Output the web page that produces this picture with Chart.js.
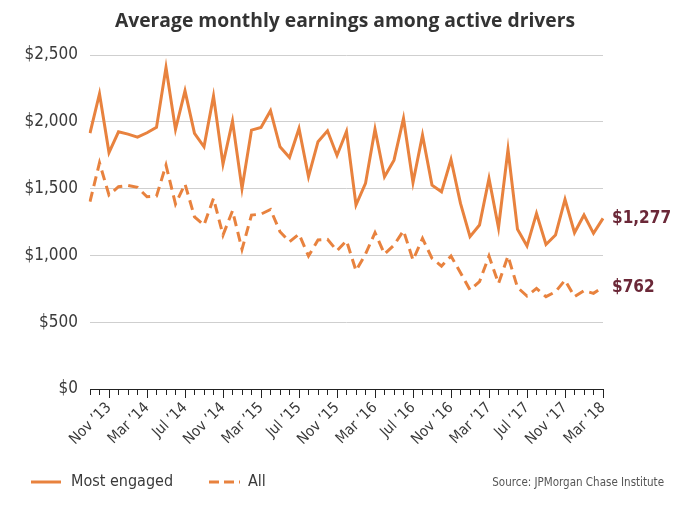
<!DOCTYPE html>
<html>
<head>
<meta charset="utf-8">
<script src="https://cdn.jsdelivr.net/npm/chart.js@4"></script>
<style>
  html, body { margin: 0; padding: 0; background: #fff; }
  #wrap { width: 678px; height: 512px; }
</style>
</head>
<body>
<div id="wrap"><canvas id="chart" width="678" height="512"></canvas></div>
<script>
// Monthly data, Sep 2013 - Mar 2018
const months = [
  "Sep '13", "Oct '13", "Nov ’13", "Dec '13",
  "Jan '14", "Feb '14", "Mar ’14", "Apr '14", "May '14", "Jun '14", "Jul ’14", "Aug '14", "Sep '14", "Oct '14", "Nov ’14", "Dec '14",
  "Jan '15", "Feb '15", "Mar ’15", "Apr '15", "May '15", "Jun '15", "Jul ’15", "Aug '15", "Sep '15", "Oct '15", "Nov ’15", "Dec '15",
  "Jan '16", "Feb '16", "Mar ’16", "Apr '16", "May '16", "Jun '16", "Jul ’16", "Aug '16", "Sep '16", "Oct '16", "Nov ’16", "Dec '16",
  "Jan '17", "Feb '17", "Mar ’17", "Apr '17", "May '17", "Jun '17", "Jul ’17", "Aug '17", "Sep '17", "Oct '17", "Nov ’17", "Dec '17",
  "Jan '18", "Feb '18", "Mar ’18"
];

const mostEngaged = [
  1915, 2210, 1770, 1925, 1908, 1885, 1918, 1958, 2407, 1943,
  2232, 1913, 1813, 2192, 1683, 2005, 1501, 1938, 1958, 2083,
  1813, 1733, 1950, 1589, 1851, 1933, 1748, 1928, 1377, 1539,
  1945, 1589, 1713, 2025, 1546, 1900, 1526, 1476, 1718, 1389,
  1140, 1227, 1576, 1207, 1793, 1195, 1070, 1314, 1082, 1152,
  1419, 1170, 1302, 1165, 1277
];

const allDrivers = [
  1402, 1693, 1452, 1514, 1524, 1509, 1439, 1444, 1676, 1384,
  1534, 1289, 1227, 1427, 1152, 1334, 1045, 1302, 1309, 1344,
  1177, 1102, 1160, 995, 1115, 1120, 1035, 1110, 885, 1010,
  1170, 1010, 1077, 1185, 965, 1127, 978, 920, 995, 870,
  741, 803, 995, 790, 995, 760, 696, 753, 691, 728,
  815, 691, 736, 716, 762
];

const seriesNames = ["Most engaged", "All"];
const endLabels = ["$1,277", "$762"];

const orange = "#E8823E";
const maroon = "#6B2838";
const textColor = "#3a3a3a";
const narrow = "'Liberation Sans Narrow', 'DejaVu Sans Condensed', sans-serif";

// title, end labels, legend, source and longer major ticks
const extrasPlugin = {
  id: "extras",
  afterDraw(chart) {
    const ctx = chart.ctx;
    const xs = chart.scales.x;
    const ys = chart.scales.y;
    ctx.save();

    // title
    ctx.fillStyle = "#333";
    ctx.font = "bold 19.3px 'Open Sans', sans-serif";
    ctx.textAlign = "center";
    ctx.textBaseline = "middle";
    ctx.fillText("Average monthly earnings among active drivers", 345, 22);

    // major ticks (every 4 months) a bit longer
    ctx.strokeStyle = "#222";
    ctx.lineWidth = 1;
    xs.ticks.forEach((t, i) => {
      if (i % 4 === 2) {
        const px = Math.round(xs.getPixelForTick(i)) + 0.5;
        ctx.beginPath();
        ctx.moveTo(px, chart.chartArea.bottom);
        ctx.lineTo(px, chart.chartArea.bottom + 9);
        ctx.stroke();
      }
    });

    // end labels
    ctx.fillStyle = maroon;
    ctx.font = "bold 17px " + narrow;
    ctx.textAlign = "left";
    ctx.textBaseline = "middle";
    chart.data.datasets.forEach((ds, i) => {
      const last = ds.data.length - 1;
      const px = xs.getPixelForValue(last);
      const py = ys.getPixelForValue(ds.data[last]);
      ctx.fillText(endLabels[i], px + 9, py);
    });

    // legend
    const ly = 482;
    ctx.strokeStyle = orange;
    ctx.lineWidth = 3;
    ctx.beginPath();
    ctx.moveTo(31, ly);
    ctx.lineTo(61, ly);
    ctx.stroke();
    ctx.setLineDash([10, 5]);
    ctx.beginPath();
    ctx.moveTo(209, ly);
    ctx.lineTo(240, ly);
    ctx.stroke();
    ctx.setLineDash([]);

    ctx.fillStyle = textColor;
    ctx.font = "16px " + narrow;
    ctx.fillText(seriesNames[0], 71, ly);
    ctx.fillText(seriesNames[1], 248, ly);

    ctx.fillStyle = "#555";
    ctx.font = "11.5px " + narrow;
    ctx.textAlign = "right";
    ctx.fillText("Source: JPMorgan Chase Institute", 664, ly + 1);

    ctx.restore();
  }
};

new Chart(document.getElementById("chart"), {
  type: "line",
  data: {
    labels: months,
    datasets: [
      {
        label: seriesNames[0],
        data: mostEngaged,
        borderColor: orange,
        borderWidth: 3,
        pointRadius: 0,
        tension: 0,
        fill: false,
      },
      {
        label: seriesNames[1],
        data: allDrivers,
        borderColor: orange,
        borderWidth: 3,
        borderDash: [10, 6],
        pointRadius: 0,
        tension: 0,
        fill: false,
      },
    ],
  },
  options: {
    responsive: false,
    animation: false,
    layout: {
      padding: { top: 55, right: 75, left: 0, bottom: 0 },
    },
    plugins: {
      legend: { display: false },
      title: { display: false },
      tooltip: { enabled: false },
    },
    scales: {
      x: {
        offset: false,
        afterFit: (scale) => {
          scale.height = 123;
        },
        border: { display: true, color: "#222", width: 1 },
        grid: {
          drawOnChartArea: false,
          drawTicks: true,
          tickLength: 6,
          color: "#222",
        },
        ticks: {
          autoSkip: false,
          maxRotation: 45,
          minRotation: 45,
          padding: 4,
          color: textColor,
          font: { family: narrow, size: 15 },
          callback: function (value, index) {
            return index % 4 === 2 ? months[index] : "";
          },
        },
      },
      y: {
        min: 0,
        max: 2500,
        afterFit: (scale) => {
          scale.width = 90;
        },
        border: { display: false },
        grid: {
          drawTicks: false,
          color: (c) => (c.tick.value === 0 ? "rgba(0,0,0,0)" : "#cfcfcf"),
          lineWidth: 1,
        },
        ticks: {
          stepSize: 500,
          padding: 12,
          color: textColor,
          font: { family: narrow, size: 17 },
          callback: (v) => "$" + v.toLocaleString("en-US"),
        },
      },
    },
  },
  plugins: [extrasPlugin],
});
</script>
</body>
</html>
